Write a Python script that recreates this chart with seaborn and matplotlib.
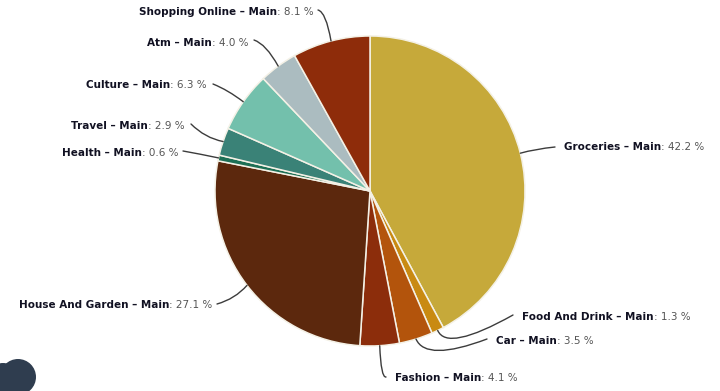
import matplotlib
matplotlib.use("Agg")
import matplotlib.pyplot as plt
import numpy as np
import seaborn as sns
from matplotlib.patches import Circle, PathPatch
from matplotlib.path import Path

categories = ["Groceries", "Food And Drink", "Car", "Fashion", "House And Garden",
              "Health", "Travel", "Culture", "Atm", "Shopping Online"]
shares = [42.2, 1.3, 3.5, 4.1, 27.1, 0.6, 2.9, 6.3, 4.0, 8.1]
slice_colors = ["#c6a93a", "#c98a12", "#b3540c", "#8c2d0b", "#5c280d",
                "#1d6f55", "#3a8277", "#73c0ac", "#abbcc0", "#8e2c0a"]

WIDTH, HEIGHT = 720, 391
CENTER = (370, HEIGHT - 191)
RADIUS = 155

# Layout in pixels from the top-left corner: label start x, label centre y,
# leader end point beside the label, and the leader's bend point.
label_x = [564, 522, 496, 395, 19, 62, 71, 86, 147, 139]
label_y = [147, 317, 341, 378, 305, 153, 126, 85, 43, 12]
leader_end = [(555, 147), (513, 315), (487, 339), (386, 377), (217, 304),
              (183, 151), (191, 124), (213, 84), (254, 40), (318, 10)]
leader_bend = [(535, 149), (447, 352), (426, 362), (381, 378), (235, 299),
               (200, 154), (205, 138), (228, 90), (266, 44), (326, 12)]

sns.set_theme(style="white")
plt.rcParams["font.family"] = ["DejaVu Sans"]

fig = plt.figure(figsize=(WIDTH / 100, HEIGHT / 100), dpi=100, facecolor="white")
ax = fig.add_axes([0, 0, 1, 1])

wedges, _ = ax.pie(
    shares,
    colors=slice_colors,
    center=CENTER,
    radius=RADIUS,
    startangle=90,
    counterclock=False,
    frame=True,
    wedgeprops={"edgecolor": "#f4f1e6", "linewidth": 1.1},
)
ax.set_xlim(0, WIDTH)
ax.set_ylim(0, HEIGHT)
ax.set_aspect("equal")
ax.axis("off")


def flip(point):
    return point[0], HEIGHT - point[1]


renderer = fig.canvas.get_renderer()
for wedge, name, share, x, y, end, bend in zip(
    wedges, categories, shares, label_x, label_y, leader_end, leader_bend
):
    mid = np.deg2rad((wedge.theta1 + wedge.theta2) / 2)
    anchor = (CENTER[0] + RADIUS * np.cos(mid), CENTER[1] + RADIUS * np.sin(mid))
    path = Path([anchor, flip(bend), flip(end)], [Path.MOVETO, Path.CURVE3, Path.CURVE3])
    ax.add_patch(PathPatch(path, fill=False, edgecolor="#3c3c3c", linewidth=1.0,
                           capstyle="round"))

    head = ax.text(x, HEIGHT - y, f"{name} \u2013 Main", fontsize=7.5, fontweight="bold",
                   color="#111122", va="center", ha="left")
    box = head.get_window_extent(renderer).transformed(ax.transData.inverted())
    ax.text(box.x1, HEIGHT - y, f": {share:.1f} %", fontsize=7.5, color="#555555",
            va="center", ha="left")

# Dark rounded badge clipped by the lower-left corner of the canvas.
for cx, cy, r in [(18, 377, 18), (3, 379, 16), (8, 388, 14)]:
    ax.add_patch(Circle(flip((cx, cy)), r, facecolor="#2f3d4f", edgecolor="none"))

fig.savefig("out.png", dpi=100, facecolor="white")
